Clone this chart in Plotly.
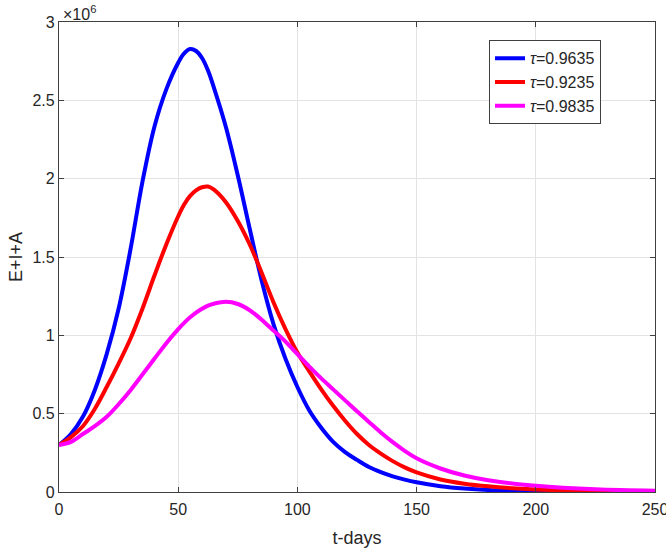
import plotly.graph_objects as go

# time points (days) at which curves were read
t_days = [0, 5, 10, 15, 20, 25, 30, 35, 40, 45, 50, 52.5, 55, 57.5, 60, 62.5, 65, 70, 75, 80, 85, 90, 95,
          100, 105, 110, 115, 120, 125, 130, 135, 140, 145, 150, 160, 170, 180, 200, 225, 250]

# E+I+A (in millions) for each tau
blue_0_9635 = [0.30, 0.37, 0.48, 0.65, 0.88, 1.17, 1.55, 1.98, 2.33, 2.57, 2.74, 2.80, 2.827, 2.815, 2.77,
               2.69, 2.58, 2.33, 2.02, 1.68, 1.35, 1.07, 0.85, 0.67, 0.52, 0.41, 0.32, 0.255, 0.205,
               0.16, 0.127, 0.10, 0.079, 0.062, 0.037, 0.022, 0.013, 0.005, 0.0015, 0.0005]
red_0_9235 = [0.30, 0.35, 0.42, 0.53, 0.67, 0.82, 0.98, 1.17, 1.38, 1.58, 1.76, 1.835, 1.89, 1.925, 1.945,
              1.95, 1.93, 1.85, 1.73, 1.58, 1.40, 1.21, 1.04, 0.89, 0.77, 0.655, 0.55, 0.455, 0.37,
              0.30, 0.245, 0.197, 0.157, 0.125, 0.080, 0.053, 0.036, 0.016, 0.006, 0.002]
magenta_0_9835 = [0.30, 0.32, 0.37, 0.42, 0.48, 0.56, 0.65, 0.75, 0.85, 0.95, 1.04, 1.08, 1.115, 1.145, 1.17,
                  1.19, 1.202, 1.214, 1.20, 1.16, 1.10, 1.03, 0.96, 0.88, 0.80, 0.725, 0.655, 0.585, 0.515,
                  0.447, 0.38, 0.318, 0.263, 0.215, 0.15, 0.105, 0.075, 0.04, 0.017, 0.008]

series_names = ["<i>τ</i>=0.9635", "<i>τ</i>=0.9235", "<i>τ</i>=0.9835"]
series_colors = ["#0000FF", "#FF0000", "#FF00FF"]
series_values = [blue_0_9635, red_0_9235, magenta_0_9835]

x_ticks = [0, 50, 100, 150, 200, 250]
y_ticks = [0, 0.5, 1, 1.5, 2, 2.5, 3]
y_tick_labels = ["0", "0.5", "1", "1.5", "2", "2.5", "3"]

SCALE = 1e6
TXT = "#262626"
LINE = "#404040"
FONT = "Liberation Sans, Arial, Helvetica, sans-serif"

fig = go.Figure()
for name, color, vals in zip(series_names, series_colors, series_values):
    fig.add_trace(go.Scatter(
        x=t_days, y=[v * SCALE for v in vals], mode="lines", name=name,
        line=dict(color=color, width=4, shape="spline", smoothing=1.0),
    ))

axis_common = dict(
    showline=True, linecolor=LINE, linewidth=1.2, mirror="allticks",
    ticks="inside", ticklen=5, tickcolor=LINE, tickwidth=1.2,
    showgrid=True, gridcolor="#e3e3e3", gridwidth=1, zeroline=False,
    tickfont=dict(family=FONT, size=16, color=TXT),
    automargin=False, ticklabeloverflow="allow",
)

fig.update_layout(
    width=666, height=550,
    paper_bgcolor="white", plot_bgcolor="white",
    margin=dict(l=59, r=11, t=22, b=58),
    font=dict(family=FONT, color=TXT),
    xaxis=dict(range=[0, 250], tickvals=x_ticks, ticklabelstandoff=3,
               title=dict(text="t-days", font=dict(family=FONT, size=18, color=TXT), standoff=14),
               **axis_common),
    yaxis=dict(range=[0, 3 * SCALE], tickvals=[v * SCALE for v in y_ticks], ticktext=y_tick_labels,
               title=dict(text="E+I+A", font=dict(family=FONT, size=18, color=TXT), standoff=5),
               **axis_common),
    legend=dict(x=0.7215, y=0.961, xanchor="left", yanchor="top",
                bgcolor="white", bordercolor=LINE, borderwidth=1,
                font=dict(family=FONT, size=16, color=TXT),
                tracegroupgap=0),
    showlegend=True,
)

fig.add_annotation(
    x=0, y=1, xref="paper", yref="paper", xanchor="left", yanchor="bottom",
    text="×10<sup>6</sup>", showarrow=False, xshift=2, yshift=-3,
    font=dict(family=FONT, size=16, color=TXT),
)

fig.write_html("out.html", config={"displayModeBar": False},
               post_script="document.body.style.margin='0';document.body.style.overflow='hidden';")
